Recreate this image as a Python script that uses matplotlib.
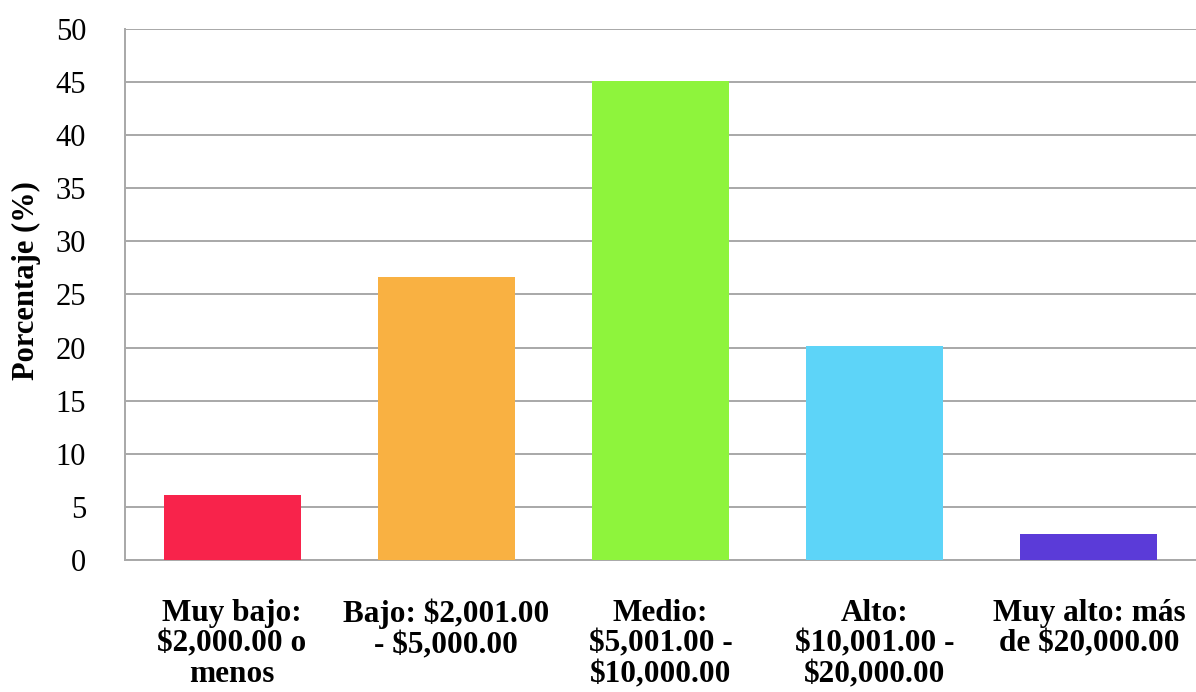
import matplotlib.pyplot as plt
import numpy as np

plt.rcParams['font.family'] = ['Liberation Serif', 'DejaVu Serif']

categorias = ["Muy bajo:\n$2,000.00 o\nmenos",
              "Bajo: $2,001.00\n- $5,000.00",
              "Medio:\n$5,001.00 -\n$10,000.00",
              "Alto:\n$10,001.00 -\n$20,000.00",
              "Muy alto: más\nde $20,000.00"]
porcentajes = [6.1, 26.6, 45.1, 20.1, 2.4]
colores = ['#f8234b', '#f9b142', '#8ef43c', '#5dd4f8', '#5b3bd8']

fig = plt.figure(figsize=(11.96, 6.92), dpi=100)
ax = fig.add_axes([0.1045, 0.191, 0.8955, 0.767])

x = np.arange(len(categorias))
ax.bar(x, porcentajes, width=0.64, color=colores, zorder=3)

ax.set_xlim(-0.5, 4.5)
ax.set_ylim(0, 50)
ax.set_yticks(np.arange(0, 51, 5))
ax.yaxis.grid(True, color='#a8a8a8', linewidth=1.4, zorder=0)
ax.set_axisbelow(True)

ax.set_xticks(x)
ax.set_xticklabels(categorias, fontsize=22.5, fontweight='bold', linespacing=1.08)
ax.tick_params(axis='x', length=0, pad=28)
ax.tick_params(axis='y', length=0, pad=28, labelsize=22)

for s in ['top', 'right']:
    ax.spines[s].set_visible(False)
for s in ['left', 'bottom']:
    ax.spines[s].set_color('#a8a8a8')
    ax.spines[s].set_linewidth(1.4)

ax.set_ylabel('Porcentaje (%)', fontsize=22, fontweight='bold')
ax.yaxis.set_label_coords(-0.078, 0.526)

fig.savefig('out.png', dpi=100)
